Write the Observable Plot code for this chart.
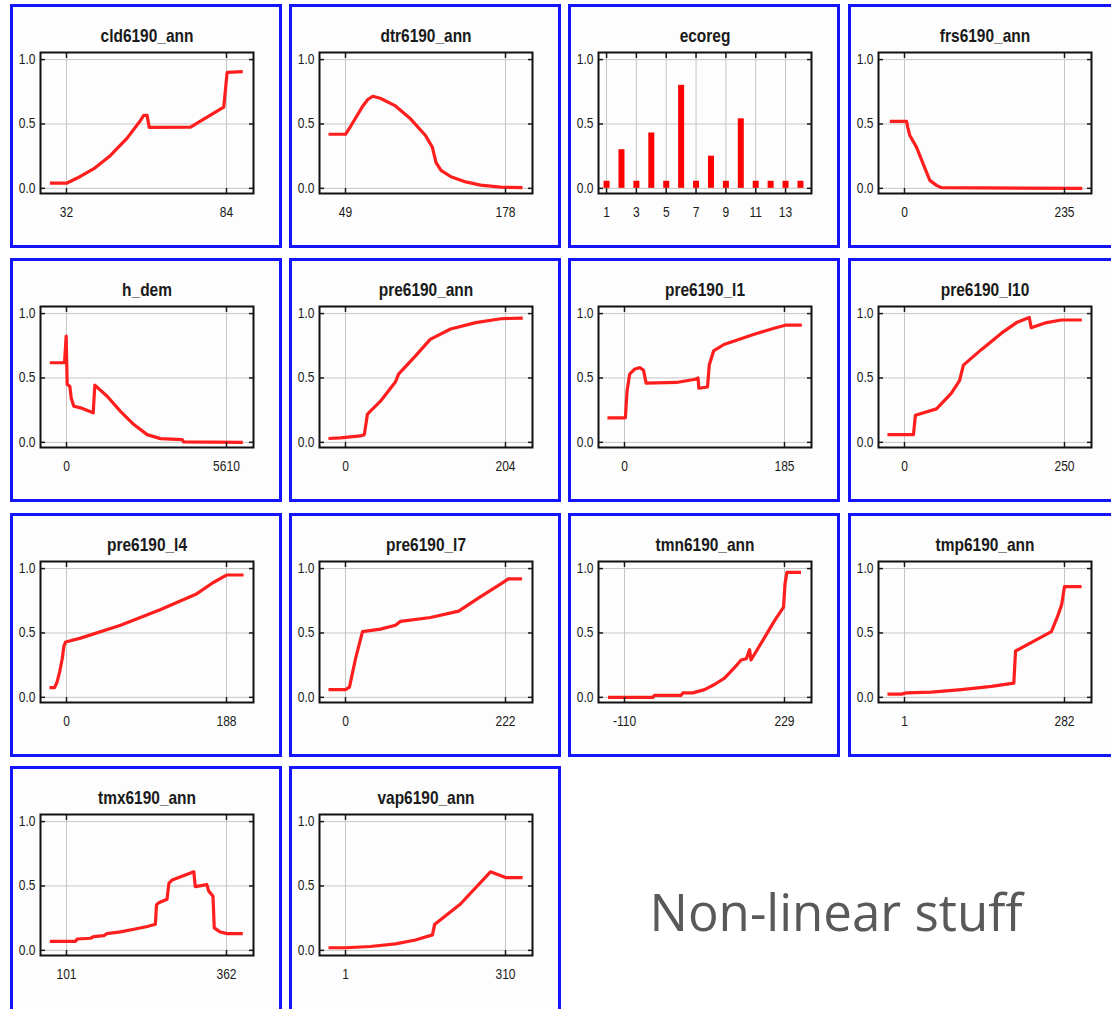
<!DOCTYPE html>
<html>
<head>
<meta charset="utf-8">
<script src="https://cdn.jsdelivr.net/npm/d3@7"></script>
<script src="https://cdn.jsdelivr.net/npm/@observablehq/plot@0.6"></script>
<style>
  html, body { margin: 0; padding: 0; background: #ffffff; }
  body { position: relative; width: 1111px; height: 1009px; overflow: hidden; }
  .panel { position: absolute; width: 266px; height: 238px; border: 3px solid #1414ff; background: #fcfdfc; }
  .panel svg { display: block; }
  #note { position: absolute; left: 611px; top: 876px; width: 450px; text-align: center;
          font-family: "Open Sans", "Noto Sans", sans-serif; font-size: 51px; color: #595959; white-space: nowrap; }
</style>
</head>
<body>
<div id="note">Non-linear stuff</div>
<script>
// Response curves: predicted suitability (0–1) against each environmental variable.
const variables = ["cld6190_ann", "dtr6190_ann", "ecoreg", "frs6190_ann",
                   "h_dem", "pre6190_ann", "pre6190_l1", "pre6190_l10",
                   "pre6190_l4", "pre6190_l7", "tmn6190_ann", "tmp6190_ann",
                   "tmx6190_ann", "vap6190_ann"];

// Minimum and maximum of each variable (the two labelled x ticks)
const xRanges = [[32, 84], [49, 178], [1, 13], [0, 235],
                 [0, 5610], [0, 204], [0, 185], [0, 250],
                 [0, 188], [0, 222], [-110, 229], [1, 282],
                 [101, 362], [1, 310]];

const yTicks = [0, 0.5, 1];

// Categorical variable: one bar per ecoregion class
const ecoregClasses = [1, 2, 3, 4, 5, 6, 7, 8, 9, 10, 11, 12, 13, 14];
const ecoregValues = [0.055, 0.30, 0.055, 0.43, 0.055, 0.80, 0.055, 0.25, 0.055, 0.54, 0.055, 0.055, 0.055, 0.055];
const ecoregTicks = [1, 3, 5, 7, 9, 11, 13];

// Continuous variables: [value, response]
const cld6190_ann = [[26.6, 0.04], [32, 0.04], [35.5, 0.08], [40.9, 0.153], [46.3, 0.256], [51.7, 0.39],
  [56.05, 0.527], [57.1, 0.566], [58.2, 0.566], [58.9, 0.473], [72.3, 0.475], [83.1, 0.63], [84.2, 0.90], [89.3, 0.907]];
const dtr6190_ann = [[35.3, 0.42], [49, 0.42], [53, 0.48], [58, 0.56], [63, 0.64], [67, 0.69], [71, 0.715],
  [77, 0.70], [89.3, 0.64], [101.4, 0.54], [113.5, 0.41], [119, 0.32], [122, 0.20], [126, 0.14], [134, 0.09],
  [146, 0.05], [158, 0.025], [174, 0.01], [191.7, 0.005]];
const frs6190_ann = [[-21.6, 0.52], [3, 0.52], [5, 0.47], [7.8, 0.41], [17.6, 0.32], [27.4, 0.19], [37.2, 0.062],
  [47, 0.023], [54.3, 0.005], [261, 0]];
const h_dem = [[-585, 0.618], [-70, 0.618], [-11, 0.826], [23, 0.45], [117, 0.436], [164, 0.345], [257, 0.28],
  [491, 0.268], [936, 0.229], [993, 0.444], [1426, 0.358], [1893, 0.241], [2361, 0.138], [2828, 0.06],
  [3296, 0.029], [4057, 0.021], [4114, 0.003], [6182, 0]];
const pre6190_ann = [[-21.7, 0.03], [-6.4, 0.035], [19, 0.05], [24, 0.06], [28, 0.22], [44.6, 0.32], [63.8, 0.47],
  [67.6, 0.53], [89, 0.67], [108, 0.80], [134, 0.88], [166, 0.93], [198, 0.96], [226, 0.965]];
const pre6190_l1 = [[-19.7, 0.19], [1, 0.19], [3, 0.40], [6, 0.53], [12, 0.57], [18, 0.58], [22, 0.56],
  [25, 0.46], [60, 0.465], [82, 0.49], [85, 0.50], [86, 0.42], [96, 0.43], [98, 0.60], [103, 0.71],
  [115, 0.76], [150, 0.84], [175, 0.89], [186, 0.91], [205, 0.91]];
const pre6190_l10 = [[-26.6, 0.06], [14, 0.06], [17, 0.21], [50, 0.26], [73, 0.38], [86, 0.48], [92, 0.60],
  [120, 0.72], [152, 0.85], [175, 0.93], [195, 0.97], [198, 0.89], [222, 0.93], [245, 0.95], [277, 0.95]];
const pre6190_l4 = [[-20, 0.075], [-14, 0.075], [-11, 0.12], [-8, 0.20], [-5, 0.30], [-3, 0.40], [-1, 0.43],
  [16.5, 0.46], [63.5, 0.56], [110, 0.68], [152, 0.80], [172, 0.89], [188, 0.95], [208, 0.95]];
const pre6190_l7 = [[-23.6, 0.06], [0, 0.06], [5.5, 0.08], [13.9, 0.30], [23.6, 0.51], [48.5, 0.53], [69.3, 0.56],
  [76.3, 0.59], [118, 0.62], [157, 0.67], [187, 0.78], [215, 0.88], [226, 0.92], [245, 0.92]];
const tmn6190_ann = [[-145, 0], [-50, 0], [-46.4, 0.015], [10, 0.015], [13.6, 0.035], [34.7, 0.035], [59.5, 0.06],
  [80.7, 0.10], [102, 0.15], [123, 0.23], [137, 0.29], [148, 0.30], [155, 0.37], [158, 0.29], [186, 0.46],
  [207, 0.59], [227, 0.70], [230, 0.88], [234, 0.97], [264, 0.97]];
const tmp6190_ann = [[-28.9, 0.025], [-4.3, 0.025], [4.5, 0.035], [48, 0.04], [101, 0.06], [154, 0.085],
  [193, 0.11], [196, 0.36], [259, 0.51], [270, 0.63], [277, 0.72], [282, 0.86], [312, 0.86]];
const tmx6190_ann = [[73.8, 0.07], [115.7, 0.07], [118.5, 0.088], [140, 0.094], [145, 0.106], [162, 0.114],
  [167, 0.13], [189, 0.143], [211, 0.164], [233, 0.185], [246, 0.203], [247.8, 0.353], [251.6, 0.37],
  [265, 0.397], [268, 0.52], [273.4, 0.547], [308.7, 0.61], [311, 0.495], [330, 0.51], [333, 0.46],
  [340, 0.42], [342, 0.175], [352, 0.142], [363, 0.13], [388.6, 0.13]];
const vap6190_ann = [[-31.8, 0.02], [1, 0.02], [49, 0.03], [97.5, 0.05], [136, 0.08], [169, 0.12], [173, 0.2],
  [223, 0.36], [281, 0.61], [310, 0.565], [343, 0.565]];

const curves = {cld6190_ann, dtr6190_ann, frs6190_ann, h_dem, pre6190_ann, pre6190_l1, pre6190_l10,
                pre6190_l4, pre6190_l7, tmn6190_ann, tmp6190_ann, tmx6190_ann, vap6190_ann};

// Panel grid
const colLeft = [10, 289, 568, 848];
const rowTop = [4, 258, 513, 766];
const FONT = "'Liberation Sans', Arial, sans-serif";
const RED = "#ff1e1e";
const GRID = "#c6c6c6";
const noLabel = () => "";
const plain = d => String(d);

// Squeeze every label horizontally (a condensed look) around its own anchor point.
function condense(svg, k) {
  svg.querySelectorAll("text").forEach(t => {
    let tr = t.getAttribute("transform") || "";
    const x = t.getAttribute("x");
    if (x !== null && !isNaN(+x)) { tr += ` translate(${+x},0)`; t.removeAttribute("x"); }
    t.setAttribute("transform", `${tr} scale(${k},1)`);
  });
}

variables.forEach((name, i) => {
  const isEco = name === "ecoreg";
  const [lo, hi] = xRanges[i];
  const span = hi - lo;
  const xDomain = isEco
    ? [ecoregClasses[0] - 0.54, ecoregClasses[ecoregClasses.length - 1] + 0.74]
    : [lo - span * 26 / 160, hi + span * 27 / 160];
  const xTicks = isEco ? ecoregTicks : [lo, hi];

  const dataMark = isEco
    ? Plot.ruleX(ecoregClasses, {x: d => d, y1: 0, y2: (d, j) => ecoregValues[j], stroke: "#ff0000", strokeWidth: 6})
    : Plot.line(curves[name], {x: d => d[0], y: d => d[1], stroke: RED, strokeWidth: 3.2,
                               strokeLinejoin: "round", strokeLinecap: "butt", clip: true});

  const chart = Plot.plot({
    width: 266,
    height: 238,
    marginLeft: 27,
    marginRight: 26,
    marginTop: 45,
    marginBottom: 52,
    x: {domain: xDomain},
    y: {domain: [-0.04, 1.055]},
    style: {fontFamily: FONT, background: "transparent", color: "#1a1a1a"},
    marks: [
      Plot.gridX({ticks: xTicks, stroke: GRID, strokeOpacity: 1}),
      Plot.gridY({ticks: yTicks, stroke: GRID, strokeOpacity: 1}),
      dataMark,
      Plot.axisY({ticks: yTicks, tickFormat: d3.format(".1f"), tickSize: 0, tickPadding: 5, fontSize: 14, label: null}),
      Plot.axisY({ticks: yTicks, anchor: "left", tickSize: 5, dx: 5, tickFormat: noLabel, label: null, strokeWidth: 1.5}),
      Plot.axisY({ticks: yTicks, anchor: "right", tickSize: 5, dx: -5, tickFormat: noLabel, label: null, strokeWidth: 1.5}),
      Plot.axisX({ticks: xTicks, tickFormat: plain, tickSize: 0, tickPadding: 14, fontSize: 14, label: null}),
      Plot.axisX({ticks: xTicks, anchor: "bottom", tickSize: 5, dy: -5, tickFormat: noLabel, label: null, strokeWidth: 1.5}),
      Plot.axisX({ticks: xTicks, anchor: "top", tickSize: 5, dy: 5, tickFormat: noLabel, label: null, strokeWidth: 1.5}),
      Plot.frame({stroke: "#111", strokeWidth: 2}),
      Plot.text([name], {text: d => d, frameAnchor: "top", lineAnchor: "middle", dy: -16,
                         fontSize: 18, fontWeight: "bold", fill: "#1a1a1a"})
    ]
  });
  condense(chart, 0.86);

  const box = document.createElement("div");
  box.className = "panel";
  box.style.left = colLeft[i % 4] + "px";
  const row = Math.floor(i / 4);
  box.style.top = rowTop[row] + "px";
  if (row === 3) box.style.height = "250px";
  box.appendChild(chart);
  document.body.appendChild(box);
});
</script>
</body>
</html>
